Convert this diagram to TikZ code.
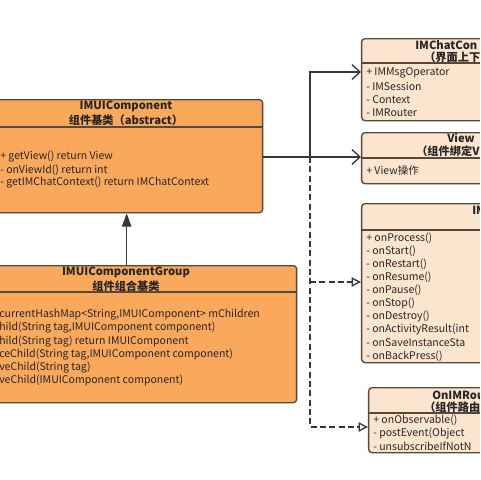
\documentclass[tikz,border=0pt]{standalone}
\usepackage{fontspec}
\setmainfont{Noto Sans CJK SC}
\usetikzlibrary{arrows.meta, positioning}
\definecolor{boxorange}{RGB}{250,168,92}
\definecolor{boxpeach}{RGB}{252,229,207}
\definecolor{boxline}{RGB}{88,72,56}
\definecolor{wirecol}{RGB}{55,55,55}
\tikzset{
	classbox/.style={draw=boxline, line width=1pt, rounded corners=2.5pt, anchor=north west, inner sep=0pt},
	ttl/.style={font=\fontsize{8.4}{10}\selectfont\bfseries, inner sep=0pt, text=black!85},
	itm/.style={font=\fontsize{7.9}{10}\selectfont, anchor=west, inner sep=0pt, text=black!85},
	divline/.style={draw=boxline, line width=1pt},
	wire/.style={draw=wirecol, line width=1pt},
	dashwire/.style={draw=wirecol, line width=1.4pt, dash pattern=on 4.5pt off 2.5pt},
	barb/.style={-{Straight Barb[length=6pt,width=11pt,line width=1pt]}},
	opentri/.style={-{Triangle[open,length=7pt,width=7pt,fill=white,line width=1pt]}}
}

\begin{document}
\begin{tikzpicture}[x=0.75pt, y=-0.75pt]
	\useasboundingbox (0,0) rectangle (480,480);
	\fill[white] (0,0) rectangle (480,480);
	\clip (0,0) rectangle (480,480);

	% left side: base classes
	\node[classbox, fill=boxorange, minimum width=272*.75pt, minimum height=113*.75pt] (comp) at (-10,99) {};
	\draw[divline] (comp.west |- 0,127) -- (comp.east |- 0,127);
	\node[ttl] (compT1) at (126,106) {IMUIComponent};
	\node[ttl] (compT2) at (126,120) {组件基类（abstract）};
	\foreach \t [count=\i] in {+ getView() return View, - onViewId() return int, - getIMChatContext() return IMChatContext}
		\node[itm] (compI\i) at (0,{144+13*\i}) {\t};

	\node[classbox, fill=boxorange, minimum width=340*.75pt, minimum height=137*.75pt] (group) at (-44,265) {};
	\draw[divline] (group.west |- 0,292) -- (group.east |- 0,292);
	\node[ttl] (groupT1) at (126,272) {IMUIComponentGroup};
	\node[ttl] (groupT2) at (126,286) {组件组合基类};
	\foreach \t [count=\i] in {currentHashMap<String{,}IMUIComponent> mChildren, {hild(String tag,IMUIComponent component)}, hild(String tag) return IMUIComponent, {ceChild(String tag,IMUIComponent component)}, veChild(String tag), veChild(IMUIComponent component)}
		\node[itm] (groupI\i) at (-1,{301.5+13.2*\i}) {\t};

	% right side
	\node[classbox, fill=boxpeach, minimum width=200*.75pt, minimum height=82*.75pt] (chatctx) at (361,38) {};
	\draw[divline] (chatctx.west |- 0,63) -- (chatctx.east |- 0,63);
	\node[ttl, anchor=west] (chatT1) at (415,45) {IMChatCon};
	\node[ttl, anchor=west] (chatT2) at (424,57) {（界面上下文};
	\foreach \t [count=\i] in {+ IMMsgOperator, - IMSession, - Context, - IMRouter}
		\node[itm] (chatI\i) at (366,{60+13.2*\i}) {\t};

	\node[classbox, fill=boxpeach, minimum width=200*.75pt, minimum height=51*.75pt] (view) at (361,132) {};
	\draw[divline] (view.west |- 0,158) -- (view.east |- 0,158);
	\node[ttl, anchor=west] (viewT1) at (447,138) {View};
	\node[ttl, anchor=west] (viewT2) at (416,151) {（组件绑定Vi};
	\node[itm] (viewI1) at (366,170) {+ View操作};

	\node[classbox, fill=boxpeach, minimum width=200*.75pt, minimum height=159*.75pt] (life) at (361,203) {};
	\draw[divline] (life.west |- 0,230) -- (life.east |- 0,230);
	\node[ttl, anchor=west] (lifeT1) at (472,210) {IM};
	\foreach \t [count=\i] in {+ onProcess(), - onStart(), - onRestart(), - onResume(), - onPause(), - onStop(), - onDestroy(), - onActivityResult(int, - onSaveInstanceSta, - onBackPress()}
		\node[itm] (lifeI\i) at (366,{225+13.1*\i}) {\t};

	\node[classbox, fill=boxpeach, minimum width=200*.75pt, minimum height=65*.75pt] (router) at (368,387) {};
	\draw[divline] (router.west |- 0,413) -- (router.east |- 0,413);
	\node[ttl, anchor=west] (routT1) at (432,395) {OnIMRou};
	\node[ttl, anchor=west] (routT2) at (424,407) {（组件路由};
	\foreach \t [count=\i] in {+ onObservable(), - postEvent(Object, - unsubscribeIfNotN}
		\node[itm] (routI\i) at (373,{407+13*\i}) {\t};

	% connectors
	\coordinate (jn) at (310,157);
	\coordinate (jn2) at (310,282);
	\draw[dashwire, opentri] (jn) |- (router.west |- 0,427);
	\draw[dashwire, opentri] (jn2) -- (life.west |- jn2);
	\draw[wire, barb] (comp.east |- jn) -- (jn) -- (view.west |- jn);
	\draw[wire, barb] (jn) |- (chatctx.west |- 0,72);
	\draw[wire, -{Triangle[length=10pt,width=7pt]}] (group.north) -- (comp.south);
\end{tikzpicture}
\end{document}
